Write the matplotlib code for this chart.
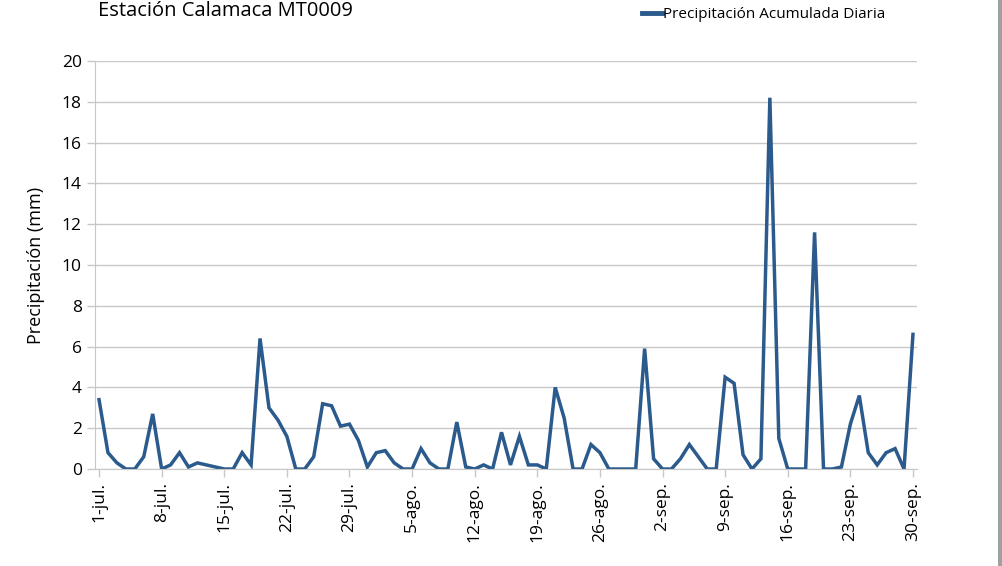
import numpy as np
import matplotlib
matplotlib.use("Agg")
import matplotlib.pyplot as plt
from matplotlib.lines import Line2D

# daily accumulated precipitation, 1-jul .. 30-sep (92 days)
precip = [3.4, 0.8, 0.3, 0.0, 0.0, 0.6, 2.7, 0.0, 0.2, 0.8,
          0.1, 0.3, 0.2, 0.1, 0.0, 0.0, 0.8, 0.2, 6.4, 3.0,
          2.4, 1.6, 0.0, 0.0, 0.6, 3.2, 3.1, 2.1, 2.2, 1.4,
          0.1, 0.8, 0.9, 0.3, 0.0, 0.0, 1.0, 0.3, 0.0, 0.0,
          2.3, 0.1, 0.0, 0.2, 0.0, 1.8, 0.2, 1.6, 0.2, 0.2,
          0.0, 4.0, 2.5, 0.0, 0.0, 1.2, 0.8, 0.0, 0.0, 0.0,
          0.0, 5.9, 0.5, 0.0, 0.0, 0.5, 1.2, 0.6, 0.0, 0.0,
          4.5, 4.2, 0.7, 0.0, 0.5, 18.2, 1.5, 0.0, 0.0, 0.0,
          11.6, 0.0, 0.0, 0.1, 2.2, 3.6, 0.8, 0.2, 0.8, 1.0,
          0.0, 6.6]
tick_labels = ["1-jul.", "8-jul.", "15-jul.", "22-jul.", "29-jul.", "5-ago.",
               "12-ago.", "19-ago.", "26-ago.", "2-sep.", "9-sep.", "16-sep.",
               "23-sep.", "30-sep."]
days = np.arange(len(precip))

plt.rcParams['font.family'] = ['Open Sans', 'DejaVu Sans']
blue = '#2b5a8c'
grid_c = '#c8c8c8'

fig = plt.figure(figsize=(10.02, 5.66), dpi=100)
ax = fig.add_axes([95/1002, 1 - 469/566, 822/1002, 408/566])
ax.plot(days, precip, color=blue, lw=2.5, solid_joinstyle='miter')

ax.set_xlim(-0.45, len(precip) - 1 + 0.45)
ax.set_ylim(0, 20)
ax.set_yticks(range(0, 21, 2))
ax.set_xticks(days[::7])
ax.set_xticklabels(tick_labels, rotation=90)
ax.tick_params(axis='both', labelsize=12.5, length=6, width=1, colors='black')
ax.tick_params(axis='both', color=grid_c)
ax.yaxis.grid(True, color=grid_c, lw=1)
ax.set_axisbelow(True)
for s in ['top', 'right']:
    ax.spines[s].set_visible(False)
for s in ['left', 'bottom']:
    ax.spines[s].set_color(grid_c)
ax.set_ylabel('Precipitación (mm)', fontsize=13, labelpad=12)

# title sits at the very top edge, as in the original
fig.text(98/1002, 1 - 1/566, 'Estación Calamaca MT0009', fontsize=14.5,
         va='top', ha='left')
leg_line = Line2D([], [], color=blue, lw=3.5)
fig.legend([leg_line], ['Precipitación Acumulada Diaria'],
           loc='center left', bbox_to_anchor=(628/1002, 1 - 15/566),
           frameon=False, fontsize=11, handlelength=1.3, handletextpad=0.1)

fig.add_artist(plt.Rectangle((998/1002, 0), 4/1002, 1, transform=fig.transFigure,
                             color='#a0a0a0', lw=0))

fig.savefig('out.png', dpi=100)
